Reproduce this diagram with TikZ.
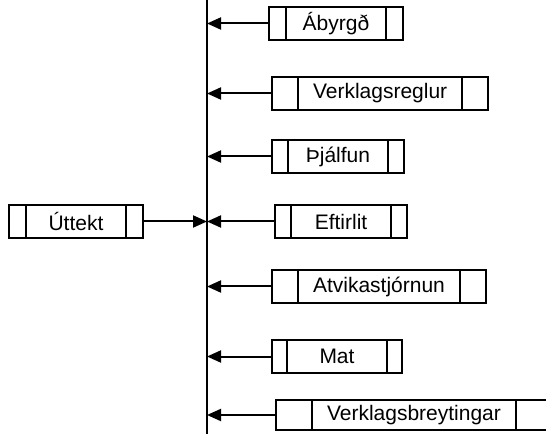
\documentclass[tikz,border=0pt]{standalone}
\usepackage{fontspec}
\setmainfont{Liberation Sans}
\usepackage{tikz}
\usetikzlibrary{positioning}
\usetikzlibrary{arrows.meta}

\begin{document}
\begin{tikzpicture}[x=1pt, y=1pt,
                box/.style={draw, line width=1.6pt, outer sep=0pt, minimum height=33pt,
                    minimum width=100pt+2*#1, inner xsep=#1+15pt,
                    font=\fontsize{21}{24}\selectfont,
                    path picture={
                        \draw ([xshift=#1]path picture bounding box.south west) -- ([xshift=#1]path picture bounding box.north west);
                        \draw ([xshift=-#1]path picture bounding box.south east) -- ([xshift=-#1]path picture bounding box.north east);}},
                link/.style={line width=2pt, -{Triangle[length=14pt, width=12pt]}}]
                \useasboundingbox (0,0) rectangle (546,434);
                \coordinate(top) at (207,434);
                \coordinate(bot) at (207,0);

                \node(aby) [box=17pt, anchor=north west] at (269,427) {Ábyrgð};
                \node(ver) [box=26pt, below right=37pt and 3pt of aby.south west] {Verklagsreglur};
                \node(thj) [box=16pt, below right=30pt and 0pt of ver.south west] {Þjálfun};
                \node(eft) [box=16pt, below right=32pt and 3pt of thj.south west] {Eftirlit};
                \node(atv) [box=26pt, below right=32pt and -3pt of eft.south west] {Atvikastjórnun};
                \node(mat) [box=15pt, below right=37pt and 0pt of atv.south west] {Mat};
                \node(brey) [box=36pt, minimum height=30pt, below right=27pt and 4pt of mat.south west] {Verklagsbreytingar};
                \node(utt) [box=17pt, left=132pt of eft] {Úttekt};

                \draw[line width=2pt] (top) -- (bot);
                \draw[link] (utt.east) -- (utt.east -| top);
                \draw[link] (aby.west) -- (aby.west -| top);
                \draw[link] (ver.west) -- (ver.west -| top);
                \draw[link] (thj.west) -- (thj.west -| top);
                \draw[link] (eft.west) -- (eft.west -| top);
                \draw[link] (atv.west) -- (atv.west -| top);
                \draw[link] (mat.west) -- (mat.west -| top);
                \draw[link] (brey.west) -- (brey.west -| top);
            \end{tikzpicture}
\end{document}
